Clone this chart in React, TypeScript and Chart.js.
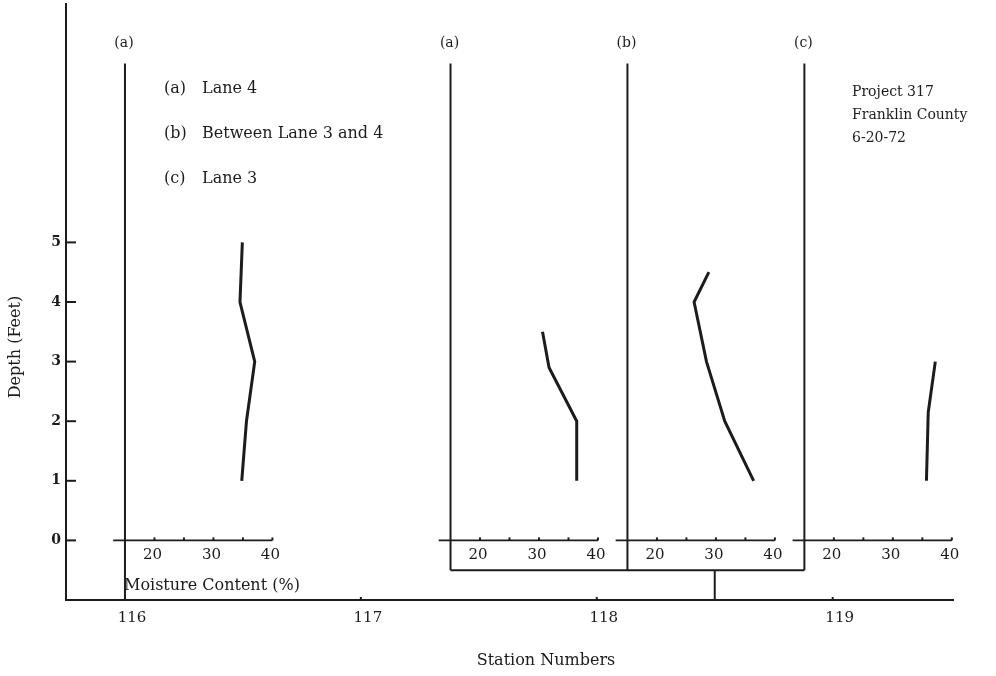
import React, { useEffect, useRef } from "react";
import { Chart, registerables } from "chart.js";

Chart.register(...registerables);

// ---------- data ----------
const stationTicks = [116, 117, 118, 119];
const depthTicks = [0, 1, 2, 3, 4, 5];
const moistureTicks = [20, 25, 30, 35, 40];
const moistureLabels = [20, 30, 40];

const profileNames = ["(a)", "(a)", "(b)", "(c)"];
const profileStations = [116.0, 117.38, 118.13, 118.88];

const depthA116 = [5, 4, 3, 2, 1];
const moistureA116 = [34.9, 34.5, 37.0, 35.6, 34.8];
const depthA118 = [3.5, 2.9, 2, 1];
const moistureA118 = [30.6, 31.7, 36.4, 36.4];
const depthB118 = [4.5, 4, 3, 2, 1];
const moistureB118 = [28.8, 26.3, 28.4, 31.5, 36.4];
const depthC118 = [3, 2.15, 1];
const moistureC118 = [37.2, 36.0, 35.7];

const legendKeys = ["(a)", "(b)", "(c)"];
const legendTexts = ["Lane 4", "Between Lane 3 and 4", "Lane 3"];
const noteLines = ["Project 317", "Franklin County", "6-20-72"];

const xTitle = "Station Numbers";
const yTitle = "Depth (Feet)";
const moistureTitle = "Moisture Content (%)";

// ---------- layout constants ----------
const X_MIN = 115.75;
const X_MAX = 119.51;
const Y_MIN = -1;
const Y_MAX = 9;
const MOIST_ORIGIN = 15;
const STATION_PER_PCT = 0.025;
const FONT = "'DejaVu Serif', serif";
const INK = "#1c1c1c";

const series = [
  { d: depthA116, m: moistureA116 },
  { d: depthA118, m: moistureA118 },
  { d: depthB118, m: moistureB118 },
  { d: depthC118, m: moistureC118 },
];

function subScale(k: number) {
  const s0 = profileStations[k];
  return {
    type: "linear" as const,
    display: false,
    min: MOIST_ORIGIN + (X_MIN - s0) / STATION_PER_PCT,
    max: MOIST_ORIGIN + (X_MAX - s0) / STATION_PER_PCT,
  };
}

const overlay = {
  id: "overlay",
  afterDatasetsDraw(chart: any) {
    const { ctx, chartArea, scales } = chart;
    const y = scales.y;
    const x = scales.x;
    ctx.save();
    ctx.strokeStyle = INK;
    ctx.fillStyle = INK;
    ctx.lineCap = "butt";

    const line = (x1: number, y1: number, x2: number, y2: number, w: number) => {
      ctx.lineWidth = w;
      ctx.beginPath();
      ctx.moveTo(x1, y1);
      ctx.lineTo(x2, y2);
      ctx.stroke();
    };

    // depth tick marks (inside)
    depthTicks.forEach((v) => {
      const py = y.getPixelForValue(v);
      line(chartArea.left, py, chartArea.left + 10, py, 2);
    });
    // station tick marks
    stationTicks.forEach((v) => {
      const px = x.getPixelForValue(v);
      line(px, chartArea.bottom, px, chartArea.bottom - 3, 2);
    });

    const y0 = y.getPixelForValue(0);
    profileStations.forEach((_, k) => {
      const sx = scales["m" + k];
      const vx = sx.getPixelForValue(MOIST_ORIGIN);
      const bottomDepth = k === 0 ? Y_MIN : -0.5;
      line(vx, y.getPixelForValue(8), vx, y.getPixelForValue(bottomDepth), 2);
      // moisture axis
      line(sx.getPixelForValue(13), y0, sx.getPixelForValue(40), y0, 1.6);
      moistureTicks.forEach((t) => {
        const px = sx.getPixelForValue(t);
        line(px, y0, px, y0 - 3, 2);
      });
      ctx.font = `15px ${FONT}`;
      ctx.textAlign = "center";
      ctx.textBaseline = "middle";
      moistureLabels.forEach((t) => {
        ctx.fillText(String(t), sx.getPixelForValue(t) - 2, y0 + 15);
      });
      ctx.font = `14px ${FONT}`;
      ctx.fillText(profileNames[k], vx - 1, 43);
    });

    // bracket joining the station-118 profiles
    const bx1 = scales.m1.getPixelForValue(MOIST_ORIGIN);
    const bx2 = scales.m3.getPixelForValue(MOIST_ORIGIN);
    const by = y.getPixelForValue(-0.5);
    line(bx1, by, bx2, by, 2);
    const cx = x.getPixelForValue(118.5);
    line(cx, by, cx, chartArea.bottom, 2);

    // legend
    ctx.font = `16px ${FONT}`;
    ctx.textAlign = "left";
    ctx.textBaseline = "middle";
    legendKeys.forEach((key, i) => {
      const ly = 89 + i * 45;
      ctx.fillText(key, 164, ly);
      ctx.fillText(legendTexts[i], 202, ly);
    });
    // note
    ctx.font = `14px ${FONT}`;
    noteLines.forEach((t, i) => ctx.fillText(t, 852, 92 + i * 23));

    // moisture title
    ctx.font = `16px ${FONT}`;
    ctx.fillText(moistureTitle, 124, 586);

    // axis titles
    ctx.textAlign = "center";
    ctx.font = `16px ${FONT}`;
    ctx.fillText(xTitle, 546, 661);
    ctx.save();
    ctx.translate(16, 347);
    ctx.rotate(-Math.PI / 2);
    ctx.fillText(yTitle, 0, 0);
    ctx.restore();

    ctx.restore();
  },
};

export default function App() {
  const ref = useRef<HTMLCanvasElement | null>(null);

  useEffect(() => {
    if (!ref.current) return;
    const datasets = series.map((s, k) => ({
      data: s.d.map((d, i) => ({ x: s.m[i], y: d })),
      xAxisID: "m" + k,
      yAxisID: "y",
      borderColor: INK,
      borderWidth: 3,
      pointRadius: 0,
      tension: 0,
      fill: false,
      showLine: true,
    }));

    const chart = new Chart(ref.current, {
      type: "scatter",
      data: { datasets: datasets as any },
      options: {
        responsive: false,
        animation: false,
        layout: { padding: { top: 4, right: 43, left: 0, bottom: 0 } },
        plugins: { legend: { display: false }, tooltip: { enabled: false } },
        scales: {
          x: {
            type: "linear",
            position: "bottom",
            min: X_MIN,
            max: X_MAX,
            afterBuildTicks: (s: any) => {
              s.ticks = stationTicks.map((v) => ({ value: v }));
            },
            afterFit: (s: any) => {
              s.height = 76;
              s.paddingLeft = 0;
              s.paddingRight = 0;
            },
            grid: { display: false, drawTicks: false },
            border: { display: true, width: 2, color: INK },
            ticks: {
              color: INK,
              font: { family: FONT, size: 15 },
              padding: 9,
              labelOffset: 7,
              maxRotation: 0,
              autoSkip: false,
              callback: (v: any) => String(v),
            },
          },
          y: {
            type: "linear",
            position: "left",
            min: Y_MIN,
            max: Y_MAX,
            afterBuildTicks: (s: any) => {
              s.ticks = depthTicks.map((v) => ({ value: v }));
            },
            afterFit: (s: any) => {
              s.width = 66;
              s.paddingTop = 0;
              s.paddingBottom = 0;
            },
            grid: { display: false, drawTicks: false },
            border: { display: true, width: 2, color: INK },
            ticks: {
              color: INK,
              font: { family: FONT, size: 14, weight: "bold" },
              padding: 5,
              autoSkip: false,
              callback: (v: any) => String(v),
            },
          },
          m0: subScale(0),
          m1: subScale(1),
          m2: subScale(2),
          m3: subScale(3),
        } as any,
      },
      plugins: [overlay],
    });
    return () => chart.destroy();
  }, []);

  return (
    <div style={{ position: "fixed", left: 0, top: 0, width: 996, height: 676, background: "#fff" }}>
      <canvas ref={ref} width={996} height={676} />
    </div>
  );
}
